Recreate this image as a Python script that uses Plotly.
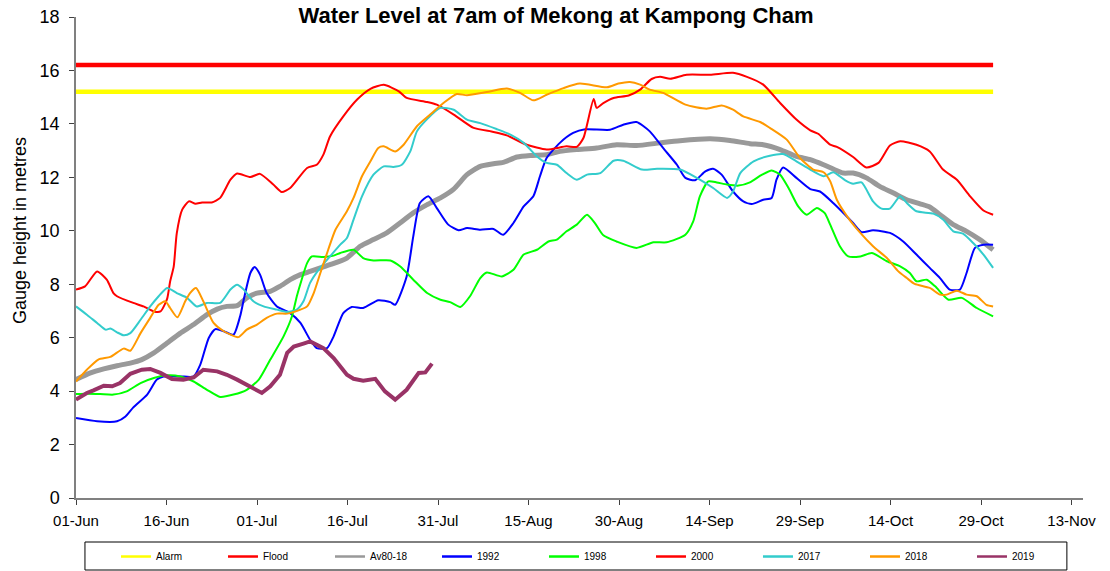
import plotly.graph_objects as go
import pandas as pd

BASE = pd.Timestamp("2019-06-01")

# Day offsets from 01-Jun and gauge levels (m)
alarm_level = 15.2
flood_level = 16.2
ref_days = [0, 152]

av_days = [0,2.4,4.6,6.8,9,10.9,12.9,15.1,17.3,19.5,21.7,23.4,25,26.7,28.3,30,32.2,33.8,35.5,37.2,
           38.8,40.5,42.1,44.9,47.1,49.3,51.5,53.7,55.9,58.2,60.4,62.6,64.8,67,69.2,70.8,73.1,75.3,78,80.2,
           83,86.3,89.6,92.9,96.8,100.1,105.1,108.4,111.7,113.9,116.7,119.4,121.7,123.9,125.5,127.2,128.8,131,133.2,135.5,
           137.7,139.9,141.5,143.2,145.4,147.6,149.8,152]
av_lvl = [4.43,4.68,4.83,4.95,5.05,5.18,5.43,5.80,6.17,6.49,6.86,7.07,7.17,7.20,7.49,7.67,7.73,7.92,8.17,8.36,
          8.48,8.61,8.73,8.98,9.42,9.67,9.92,10.29,10.67,10.98,11.23,11.56,12.10,12.41,12.51,12.56,12.76,12.82,12.85,12.97,
          13.04,13.10,13.22,13.19,13.29,13.37,13.44,13.38,13.26,13.22,13.04,12.78,12.66,12.47,12.31,12.16,12.16,11.98,11.66,11.41,
          11.16,11.01,10.89,10.60,10.23,9.98,9.67,9.29]

d1992 = [0,3.5,6.8,8.2,9.5,11.8,13.4,14.5,17.3,19.5,20.6,22,23.1,24.5,26.1,27.2,27.8,28.9,29.6,30.5,
         31.6,33.3,35.5,37.2,38.8,39.9,41.6,42.7,44.3,45.7,47.6,50.1,52.1,52.9,54.8,55.9,57,58.4,59.8,61.7,
         63.4,64.8,67,69.2,70.8,72.5,74.2,75.8,76.9,78,80.2,82.4,84.4,88.5,90.7,92.9,95.1,97.3,99.6,101,
         102.6,104.3,105.6,107,108.9,110.6,112,113.9,115.3,116.1,117.2,119.4,121.7,123.3,125.5,128.8,130.2,132.1,134.9,137.1,
         139.3,141.5,143.2,144.8,146.5,147.6,149,150.4,152]
v1992 = [2.99,2.87,2.87,3.05,3.39,3.87,4.43,4.55,4.55,4.55,4.99,5.99,6.32,6.24,6.11,6.80,7.42,8.42,8.64,8.36,
         7.67,7.17,6.92,6.55,5.92,5.61,5.61,6.05,6.92,7.15,7.11,7.40,7.33,7.23,8.29,9.79,11.04,11.29,10.85,10.23,
         10.02,10.10,10.04,10.07,9.85,10.29,10.91,11.29,12.04,12.72,13.29,13.66,13.80,13.78,13.97,14.07,13.72,13.10,12.47,11.98,
         11.89,12.22,12.32,12.10,11.47,11.10,11.00,11.16,11.23,11.91,12.37,11.98,11.56,11.47,11.04,10.29,9.95,10.02,9.92,9.60,
         9.11,8.61,8.23,7.80,7.80,8.42,9.36,9.48,9.48]

d1998 = [0,1.8,4,6.2,8.4,10.7,12.9,15.1,17.3,19.5,21.7,23.9,26.1,28.3,30.3,32.2,34.4,35.8,36.6,37.4,
         38.3,39.1,41,42.7,43.8,46,47.6,49.3,52.1,53.7,55.9,58.2,60.4,62,63.7,65.3,67,68.1,70.6,72.5,
         74.2,76.4,78.3,79.7,81.3,83,84.7,86,87.4,89.6,92.9,95.7,97.9,101,102.3,103.4,104.8,106.2,107.9,109.8,
         111.7,113.7,115.3,116.7,118.1,119.7,121.1,122.8,124.1,125,126.6,128,130,131.9,134.4,136.6,138.2,139.3,141,142.4,
         144.6,146.8,149.3,152]
v1998 = [3.89,3.90,3.89,3.87,3.99,4.30,4.49,4.59,4.55,4.36,4.05,3.78,3.87,4.05,4.43,5.18,6.05,6.80,7.55,8.17,
         8.79,9.04,9.02,9.07,9.17,9.29,8.98,8.89,8.89,8.67,8.17,7.67,7.42,7.33,7.15,7.55,8.23,8.44,8.29,8.54,
         9.11,9.29,9.60,9.67,9.98,10.23,10.60,10.29,9.83,9.60,9.36,9.57,9.57,9.85,10.35,11.29,11.85,11.81,11.73,11.69,
         11.81,12.10,12.26,12.10,11.60,10.91,10.60,10.85,10.66,10.23,9.42,9.04,9.04,9.17,8.86,8.67,8.42,8.11,8.17,7.92,
         7.42,7.49,7.11,6.80]

d2000 = [0,1.5,3.5,5.1,6.2,6.8,9.5,11.2,12.9,14,15.1,15.6,16.2,16.7,17.6,18.7,19.8,20.9,22.5,23.9,
         25.6,26.7,28.9,30.5,32.7,34.1,35.5,38.3,39.9,41,42.1,44.3,46.6,48.8,51,53.5,54.8,58.2,59.8,62.6,
         65.9,69.2,71.4,74.7,78,81.3,83,84.1,85.8,86.3,87.4,89.1,91.6,93.5,95.4,96.8,98.5,101.2,105.1,108.9,
         111.2,113.9,116.7,119.4,121.7,123,125,126.1,128.8,131,133,134.9,136.6,139.3,141.5,143.7,146,148.2,150.4,152]
v2000 = [7.80,7.92,8.48,8.17,7.67,7.55,7.30,7.17,6.98,6.98,7.45,8.10,8.67,9.90,10.79,11.10,11.01,11.06,11.06,11.23,
         11.91,12.14,12.01,12.13,11.73,11.45,11.60,12.35,12.47,12.85,13.53,14.28,14.91,15.31,15.46,15.22,14.97,14.82,14.72,14.35,
         13.85,13.70,13.57,13.22,13.04,13.16,13.14,13.47,14.93,14.60,14.78,14.97,15.06,15.28,15.68,15.76,15.69,15.84,15.84,15.91,
         15.76,15.47,14.78,14.16,13.76,13.63,13.22,13.14,12.76,12.37,12.54,13.19,13.35,13.22,12.97,12.29,11.91,11.29,10.76,10.60]

d2017 = [0,1.8,3.5,4.9,5.7,6.8,7.9,9,10.7,12.3,13.7,15.1,16.7,18.4,20,21.7,23.9,25.6,26.7,27.8,
         29.4,31.1,33.3,35,36.6,37.7,38.8,40.2,42.1,43.8,44.9,46,47.4,49.3,51,52.6,54,55.4,56.5,58.2,
         60.4,62.6,64.8,67,69.7,72,74.2,76.4,78,79.7,81.3,83,84.7,86.9,89.1,90.7,93.8,96.3,100.1,102.9,
         105.6,107.9,108.9,110.1,112.3,115,117.2,119.4,121.7,123.9,125.5,127.5,128.8,130.2,132.1,133.5,134.9,136.6,137.7,139.3,
         142.1,143.7,145.4,147,148.7,150.4,152]
v2017 = [7.17,6.86,6.55,6.30,6.34,6.20,6.09,6.17,6.67,7.17,7.55,7.86,7.67,7.49,7.17,7.30,7.30,7.80,7.98,7.80,
         7.36,7.17,7.05,6.96,7.05,7.36,8.05,8.54,9.04,9.48,9.73,10.42,11.29,12.10,12.41,12.39,12.47,12.97,13.72,14.18,
         14.60,14.53,14.16,14.03,13.81,13.60,13.29,12.78,12.54,12.47,12.16,11.91,12.10,12.16,12.62,12.62,12.29,12.32,12.29,11.98,
         11.60,11.23,11.47,12.16,12.60,12.81,12.87,12.60,12.29,12.04,12.19,11.89,11.76,11.81,11.10,10.83,10.83,11.29,11.04,10.73,
         10.64,10.42,9.98,9.89,9.54,9.11,8.61]

d2018 = [0,1.8,3.7,5.7,7.9,9,10.7,12.3,13.7,14.8,15.6,16.8,18.1,18.9,19.9,21.1,22.8,24.5,26.9,28.3,
         30,31.6,33.3,35,37.2,38.3,39.4,40.5,41.8,43,44.9,46,47.4,48.8,50.1,51,52.9,54.3,56.5,58.7,
         60.9,63.1,64.8,68.1,71.4,73.6,75.8,78,80.8,83.5,88,89.9,91.8,93.5,95.1,97.3,101,104.5,107,108.9,
         110.6,113.4,115,117.8,120,122.2,123.9,125,126.1,127.8,130,132.1,134.4,136.3,137.7,139,141.5,143.2,144.3,146,
         147.6,149.3,150.9,152]
v2018 = [4.36,4.80,5.18,5.28,5.59,5.51,6.17,6.74,7.23,7.36,7.11,6.76,7.36,7.67,7.86,7.36,6.55,6.24,6.02,6.30,
         6.49,6.74,6.90,6.90,7.05,7.17,7.67,8.42,9.29,10.04,10.73,11.23,12.04,12.60,13.10,13.16,12.97,13.22,13.91,14.35,
         14.78,15.12,15.07,15.19,15.32,15.16,14.88,15.09,15.34,15.51,15.37,15.51,15.57,15.47,15.28,15.16,14.72,14.57,14.69,14.53,
         14.28,14.07,13.85,13.41,12.72,12.29,12.19,11.85,11.16,10.54,9.92,9.42,8.98,8.48,8.23,8.01,7.86,7.61,7.61,7.76,
         7.61,7.55,7.23,7.17]

d2019 = [0,1.8,2.9,4.6,6,7.3,9,10.9,12.3,14,15.9,17.8,19.5,21.1,23.4,25,26.7,28.9,30.8,32.2,
         33.8,35,36.1,37.7,38.8,41,42.7,44.9,46,47.6,49.6,51.2,52.9,54.8,56.8,57.9,59]
v2019 = [3.68,3.93,4.03,4.20,4.18,4.30,4.65,4.80,4.83,4.68,4.45,4.43,4.51,4.80,4.74,4.61,4.43,4.18,3.93,4.18,
         4.61,5.43,5.67,5.78,5.86,5.61,5.24,4.61,4.46,4.39,4.46,3.99,3.68,4.05,4.68,4.70,5.03]

tick_days = [0, 15, 30, 45, 60, 75, 90, 105, 120, 135, 150, 165]
tick_labels = ["01-Jun", "16-Jun", "01-Jul", "16-Jul", "31-Jul", "15-Aug",
               "30-Aug", "14-Sep", "29-Sep", "14-Oct", "29-Oct", "13-Nov"]


def to_dates(days):
    return [BASE + pd.Timedelta(days=d) for d in days]


series = [
    ("Alarm", ref_days, [alarm_level, alarm_level], "#FFFF00", 4.5, "linear"),
    ("Flood", ref_days, [flood_level, flood_level], "#FF0000", 4.5, "linear"),
    ("Av80-18", av_days, av_lvl, "#999999", 5, "spline"),
    ("1992", d1992, v1992, "#0000FF", 2, "spline"),
    ("1998", d1998, v1998, "#00FF00", 2, "spline"),
    ("2000", d2000, v2000, "#FF0000", 2, "spline"),
    ("2017", d2017, v2017, "#33CCCC", 2, "spline"),
    ("2018", d2018, v2018, "#FF9900", 2, "spline"),
    ("2019", d2019, v2019, "#993366", 4, "linear"),
]

fig = go.Figure()
for name, dd, vv, color, width, shape in series:
    assert len(dd) == len(vv), name
    line = dict(color=color, width=width, shape=shape)
    if shape == "spline":
        line["smoothing"] = 0.6
    fig.add_trace(go.Scatter(x=to_dates(dd), y=vv, mode="lines", name=name,
                             line=line, legendgroup=name, showlegend=False))
# legend entries (thin sample lines like the original)
for name, dd, vv, color, width, shape in series:
    fig.add_trace(go.Scatter(x=[None], y=[None], mode="lines", name=name,
                             line=dict(color=color, width=2.5), legendgroup=name,
                             showlegend=True))

font_main = "Liberation Sans, Arial, sans-serif"
fig.update_layout(
    width=1110, height=571,
    margin=dict(l=76, r=27, t=17, b=73, autoexpand=False),
    paper_bgcolor="white", plot_bgcolor="white",
    hovermode=False,
    title=dict(text="Water Level at 7am of Mekong at Kampong Cham",
               font=dict(family=font_main, size=22, color="black", weight=700),
               x=556 / 1110, xref="container", xanchor="center",
               y=1 - 15 / 571, yref="container", yanchor="middle"),
    showlegend=True,
    legend=dict(orientation="h", x=0.0397, xanchor="left", xref="paper",
                y=-0.0915, yanchor="top", yref="paper",
                borderwidth=0, bgcolor="rgba(0,0,0,0)",
                entrywidth=62, entrywidthmode="pixels",
                font=dict(family="Liberation Sans Narrow, Arial Narrow, Liberation Sans, sans-serif",
                          size=10, color="black"),
                traceorder="normal"),
    shapes=[dict(type="rect", xref="paper", yref="paper",
                 x0=0.0089, x1=0.984, y0=-0.0915, y1=-0.1497,
                 line=dict(color="black", width=1), fillcolor="rgba(0,0,0,0)",
                 layer="below")],
    annotations=[dict(text="Gauge height in metres", textangle=-90,
                      xref="paper", yref="paper", x=-0.0556, y=0.555,
                      xanchor="center", yanchor="middle", showarrow=False,
                      font=dict(family=font_main, size=18, color="black"))],
    xaxis=dict(type="date",
               range=[BASE, BASE + pd.Timedelta(days=166.9)],
               tickvals=to_dates(tick_days), ticktext=tick_labels,
               showgrid=False, zeroline=False,
               showline=True, linecolor="#808080", linewidth=1.5,
               ticks="outside", ticklen=5, tickcolor="#404040", tickwidth=1,
               ticklabelstandoff=3,
               tickfont=dict(family=font_main, size=15, color="black")),
    yaxis=dict(range=[0, 18], tickvals=list(range(0, 19, 2)),
               showgrid=False, zeroline=False,
               showline=True, linecolor="#808080", linewidth=1.5,
               ticks="outside", ticklen=5, tickcolor="#404040", tickwidth=1,
               ticklabelstandoff=6, ticklabeloverflow="allow",
               tickfont=dict(family=font_main, size=18, color="black")),
)

# remove the browser's default page margin so the figure sits at the window's corner
fig.write_html("out.html",
               config={"displayModeBar": False},
               post_script="document.body.style.margin='0';")
